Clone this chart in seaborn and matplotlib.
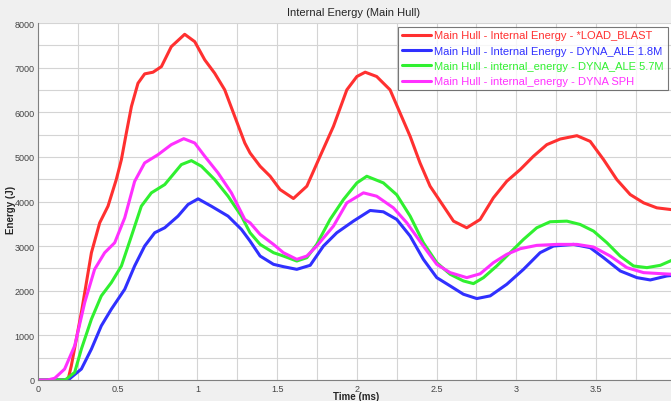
import matplotlib
matplotlib.use('Agg')
import matplotlib.pyplot as plt
import seaborn as sns
import pandas as pd
from matplotlib.ticker import MultipleLocator

# Time (ms) / Energy (J)
t_blast = [0, 0.15, 0.188, 0.209, 0.272, 0.335, 0.387, 0.439, 0.491, 0.523, 0.554, 0.586, 0.627, 0.669,
           0.721, 0.774, 0.836, 0.92, 0.983, 1.046, 1.108, 1.171, 1.234, 1.297, 1.33, 1.393, 1.456, 1.518,
           1.602, 1.686, 1.769, 1.853, 1.937, 2.0, 2.052, 2.124, 2.208, 2.271, 2.334, 2.396, 2.459, 2.543,
           2.606, 2.689, 2.773, 2.856, 2.94, 3.024, 3.107, 3.191, 3.275, 3.38, 3.463, 3.547, 3.63, 3.714,
           3.798, 3.881, 3.98]
e_blast = [0, 0, 0, 320, 1512, 2852, 3523, 3895, 4492, 4939, 5535, 6130, 6650, 6860,
           6897, 7023, 7470, 7747, 7582, 7173, 6875, 6503, 5906, 5311, 5087, 4790, 4566, 4268,
           4067, 4343, 5013, 5684, 6503, 6801, 6898, 6801, 6503, 5981, 5460, 4864, 4343, 3896,
           3560, 3411, 3598, 4082, 4454, 4715, 5013, 5274, 5400, 5475, 5348, 4939, 4492, 4156,
           3970, 3858, 3815]

t_ale18 = [0, 0.19, 0.209, 0.272, 0.335, 0.397, 0.46, 0.544, 0.606, 0.669, 0.732, 0.795, 0.878, 0.941,
           1.004, 1.087, 1.192, 1.276, 1.33, 1.393, 1.477, 1.539, 1.623, 1.707, 1.79, 1.874, 1.978, 2.083,
           2.166, 2.25, 2.334, 2.417, 2.501, 2.585, 2.668, 2.752, 2.836, 2.94, 3.045, 3.149, 3.233, 3.359,
           3.463, 3.547, 3.652, 3.756, 3.84, 3.944, 3.98]
e_ale18 = [0, 0, 60, 246, 693, 1214, 1587, 2034, 2555, 3002, 3300, 3412, 3672, 3933,
           4060, 3895, 3672, 3374, 3113, 2778, 2592, 2540, 2480, 2570, 3001, 3300, 3560, 3799,
           3769, 3598, 3225, 2704, 2294, 2108, 1922, 1825, 1885, 2145, 2480, 2853, 3002, 3039,
           2965, 2741, 2443, 2294, 2242, 2331, 2345]

t_ale57 = [0, 0.17, 0.23, 0.272, 0.335, 0.397, 0.46, 0.523, 0.586, 0.648, 0.711, 0.795, 0.899, 0.962,
           1.025, 1.108, 1.192, 1.276, 1.33, 1.393, 1.477, 1.539, 1.623, 1.686, 1.748, 1.832, 1.916, 2.0,
           2.062, 2.166, 2.25, 2.334, 2.417, 2.501, 2.585, 2.668, 2.731, 2.794, 2.877, 2.961, 3.045, 3.128,
           3.212, 3.317, 3.4, 3.484, 3.568, 3.651, 3.735, 3.819, 3.903, 3.98]
e_ale57 = [0, 0, 171, 693, 1363, 1884, 2183, 2555, 3225, 3895, 4194, 4380, 4827, 4916,
           4790, 4492, 4119, 3672, 3300, 3039, 2853, 2778, 2666, 2741, 3039, 3598, 4045, 4417,
           4566, 4417, 4150, 3672, 3076, 2629, 2369, 2220, 2160, 2294, 2555, 2853, 3151, 3411,
           3546, 3560, 3486, 3337, 3076, 2778, 2555, 2518, 2570, 2690]

t_sph = [0, 0.06, 0.105, 0.167, 0.23, 0.293, 0.355, 0.418, 0.481, 0.544, 0.606, 0.669, 0.753, 0.836,
         0.914, 0.983, 1.046, 1.129, 1.213, 1.297, 1.33, 1.393, 1.477, 1.539, 1.623, 1.686, 1.748, 1.853,
         1.937, 2.041, 2.124, 2.229, 2.313, 2.417, 2.501, 2.585, 2.689, 2.773, 2.856, 2.94, 3.024, 3.128,
         3.254, 3.38, 3.484, 3.589, 3.693, 3.798, 3.903, 3.98]
e_sph = [0, 0, 40, 246, 767, 1736, 2480, 2852, 3076, 3635, 4450, 4865, 5050, 5274,
         5408, 5311, 5013, 4641, 4194, 3598, 3523, 3263, 3039, 2853, 2704, 2778, 3001, 3449,
         3970, 4194, 4119, 3858, 3523, 3001, 2592, 2406, 2294, 2380, 2629, 2816, 2942, 3017,
         3039, 3039, 2980, 2778, 2518, 2406, 2384, 2369]

labels = ['Main Hull - Internal Energy - *LOAD_BLAST',
          'Main Hull - Internal Energy - DYNA_ALE 1.8M',
          'Main Hull - internal_energy - DYNA_ALE 5.7M',
          'Main Hull - internal_energy - DYNA SPH']
colors = ['#ff3030', '#3030ff', '#30f030', '#ff30ff']

frames = []
for lab, t, e in zip(labels, [t_blast, t_ale18, t_ale57, t_sph], [e_blast, e_ale18, e_ale57, e_sph]):
    frames.append(pd.DataFrame({'time': t, 'energy': e, 'series': lab}))
df = pd.concat(frames, ignore_index=True)

sns.set_style('white')
plt.rcParams['font.family'] = ['Liberation Sans', 'DejaVu Sans']

fig = plt.figure(figsize=(6.71, 4.02), dpi=100, facecolor='#f0f0f0')
ax = fig.add_axes([38 / 671, 21 / 402, 633 / 671, 357 / 402])
ax.set_facecolor('white')

sns.lineplot(data=df, x='time', y='energy', hue='series', palette=colors,
             estimator=None, linewidth=2.2, ax=ax)

ax.set_xlim(0, 3.97)
ax.set_ylim(0, 8000)
ax.xaxis.set_major_locator(MultipleLocator(0.5))
ax.xaxis.set_minor_locator(MultipleLocator(0.25))
ax.yaxis.set_major_locator(MultipleLocator(1000))
ax.yaxis.set_minor_locator(MultipleLocator(500))
ax.set_xticks([0, 0.5, 1, 1.5, 2, 2.5, 3, 3.5])
ax.set_xticklabels(['0', '0.5', '1', '1.5', '2', '2.5', '3', '3.5'])
ax.grid(True, which='both', color='#d4d4d4', linewidth=0.8)
ax.tick_params(axis='both', which='major', labelsize=6.5, colors='#444444', length=2, width=0.6, pad=0.6)
ax.tick_params(axis='both', which='minor', length=0)
for s in ['top', 'right']:
    ax.spines[s].set_visible(False)
for s in ['left', 'bottom']:
    ax.spines[s].set_color('#808080')
    ax.spines[s].set_linewidth(0.8)

ax.set_xlabel('Time (ms)', fontsize=7, fontweight='bold')
ax.xaxis.set_label_coords(0.502, -0.031)
ax.set_ylabel('Energy (J)', fontsize=7, fontweight='bold')
ax.yaxis.set_label_coords(-0.035, 0.48)
fig.text(354 / 671, 1 - 13 / 402, 'Internal Energy (Main Hull)', ha='center', va='center', fontsize=8)

leg = ax.legend(loc='upper left', bbox_to_anchor=(360 / 633, 0.99), fontsize=8, frameon=True,
                fancybox=False, edgecolor='#555555', handlelength=2.6, handletextpad=0.3,
                borderpad=0.35, labelspacing=0.48, borderaxespad=0)
leg.get_frame().set_linewidth(0.8)
for txt, c in zip(leg.get_texts(), colors):
    txt.set_color(c)

fig.savefig('out.png', dpi=100, facecolor=fig.get_facecolor())
